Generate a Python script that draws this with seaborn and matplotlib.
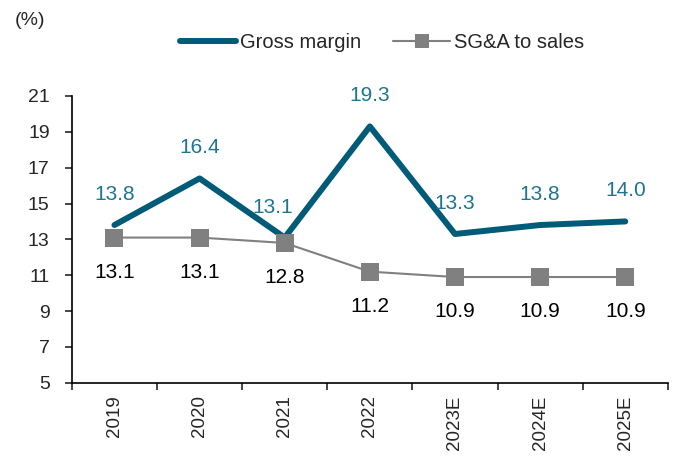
import matplotlib
matplotlib.use("Agg")
import pandas as pd
import numpy as np
import matplotlib.pyplot as plt
import seaborn as sns

years = ["2019", "2020", "2021", "2022", "2023E", "2024E", "2025E"]
gross_margin = [13.8, 16.4, 13.1, 19.3, 13.3, 13.8, 14.0]
sga_to_sales = [13.1, 13.1, 12.8, 11.2, 10.9, 10.9, 10.9]

df = pd.DataFrame({"year": years, "Gross margin": gross_margin, "SG&A to sales": sga_to_sales})
df["pos"] = np.arange(len(years))

sns.set_style("ticks")
plt.rcParams["font.family"] = ["Liberation Sans", "DejaVu Sans"]
plt.rcParams["font.size"] = 13

fig = plt.figure(figsize=(6.78, 4.59), dpi=100)
ax = fig.add_axes([0.106, 0.166, 0.879, 0.625])

teal = "#005B78"
label_teal = "#1F7490"
grey = "#808080"

sns.lineplot(data=df, x="pos", y="Gross margin", color=teal, linewidth=4.3,
             solid_capstyle="round", ax=ax, label="Gross margin")
sns.lineplot(data=df, x="pos", y="SG&A to sales", color=grey, linewidth=1.5,
             marker="s", markersize=12.5, markeredgewidth=0, ax=ax, label="SG&A to sales")

for i, v in enumerate(gross_margin):
    dx = -9 if i == 2 else 0
    ax.annotate(f"{v:.1f}", (i, v), xytext=(dx, 22), textcoords="offset points",
                ha="center", va="center", color=label_teal, fontsize=15)
for i, v in enumerate(sga_to_sales):
    ax.annotate(f"{v:.1f}", (i, v), xytext=(0, -25), textcoords="offset points",
                ha="center", va="center", color="black", fontsize=15)

ax.set_xlim(-0.5, len(years) - 0.5)
ax.set_ylim(5, 21)
ax.set_yticks(range(5, 22, 2))
ax.set_xticks(range(len(years)))
ax.set_xticklabels(years, rotation=90, fontsize=13.5)
ax.set_xticks(np.arange(-0.5, len(years), 1), minor=True)
ax.tick_params(axis="x", which="major", length=0, pad=9)
ax.tick_params(axis="x", which="minor", length=5, direction="out", width=1.2)
ax.tick_params(axis="y", length=5, direction="out", width=1.2, pad=11, labelsize=14)
ax.set_xlabel("")
ax.set_ylabel("")
for s in ["left", "bottom"]:
    ax.spines[s].set_linewidth(1.2)
    ax.spines[s].set_color("black")
sns.despine(ax=ax)

ax.legend(loc="center", bbox_to_anchor=(0.52, 1.185), ncol=2, frameon=False,
          fontsize=14.5, handlelength=2.8, handletextpad=0.2, columnspacing=1.6,
          markerscale=0.75)
fig.text(0.022, 0.955, "(%)", fontsize=14, va="center")

fig.savefig("out.png", dpi=100)
